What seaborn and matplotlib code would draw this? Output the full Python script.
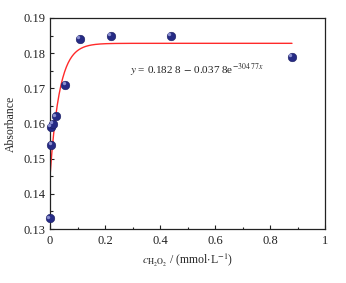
import numpy as np
import pandas as pd
import seaborn as sns
import matplotlib.pyplot as plt
from matplotlib.ticker import MultipleLocator
from matplotlib.transforms import ScaledTranslation

# measured points
conc = [0.0, 0.005, 0.004, 0.010, 0.022, 0.056, 0.109, 0.22, 0.44, 0.88]
absorb = [0.133, 0.154, 0.159, 0.160, 0.162, 0.171, 0.184, 0.185, 0.185, 0.179]

# exponential fit (y = a - b*exp(-k*x)); k
fit_a = 0.1828
fit_b = 0.0378
fit_k = 29.0
fit_xmax = 0.88

sns.set_style('white')
plt.rcParams['font.family'] = ['Liberation Serif', 'DejaVu Serif']
plt.rcParams['mathtext.fontset'] = 'stix'

df = pd.DataFrame({'c': conc, 'A': absorb})
xf = np.linspace(0, fit_xmax, 400)
fit = pd.DataFrame({'c': xf, 'A': fit_a - fit_b * np.exp(-fit_k * xf)})

fig = plt.figure(figsize=(3.46, 2.83), dpi=100)
ax = fig.add_axes([50 / 346, 1 - 229 / 283, 275 / 346, 211 / 283])

sns.lineplot(data=fit, x='c', y='A', color='#ff2a2a', lw=1.0, ax=ax)
sns.scatterplot(data=df, x='c', y='A', color='#262b85', s=38, edgecolor='#1a1d60',
                linewidth=0.4, zorder=3, clip_on=False, ax=ax)
# small highlight to give the spheres some shading
shift = ScaledTranslation(-1.2 / 72, 1.2 / 72, fig.dpi_scale_trans)
ax.scatter(df['c'], df['A'], s=6, color='#8a8fd0', linewidth=0, zorder=4,
           clip_on=False, transform=ax.transData + shift)

ax.set_xlim(0, 1)
ax.set_ylim(0.13, 0.19)
ax.xaxis.set_minor_locator(MultipleLocator(0.1))
ax.yaxis.set_minor_locator(MultipleLocator(0.005))
ax.set_xticks([0, 0.2, 0.4, 0.6, 0.8, 1.0])
ax.set_xticklabels(['0', '0.2', '0.4', '0.6', '0.8', '1'])
ax.set_yticks([0.13, 0.14, 0.15, 0.16, 0.17, 0.18, 0.19])
ax.set_yticklabels(['0.13', '0.14', '0.15', '0.16', '0.17', '0.18', '0.19'])
ax.tick_params(which='both', direction='in', left=True, bottom=True,
               labelsize=9, colors='#222222')
ax.tick_params(axis='x', pad=4)
ax.tick_params(axis='y', pad=3)
ax.tick_params(which='major', length=3, width=0.8)
ax.tick_params(which='minor', length=1.8, width=0.8)
for s in ax.spines.values():
    s.set_color('#222222')
    s.set_linewidth(0.9)

ax.set_xlabel(r'$c_{\mathrm{H_2O_2}}$ / (mmol$\cdot$L$^{-1}$)', fontsize=8.5, labelpad=3)
ax.set_ylabel('Absorbance', fontsize=8.5, labelpad=5)
ax.text(0.535, 0.1750, r'$y$ = 0.182 8 $-$ 0.037 8e$^{-304\;77x}$',
        fontsize=8, ha='center', va='center', color='#222222')

fig.savefig('out.png', dpi=100)
